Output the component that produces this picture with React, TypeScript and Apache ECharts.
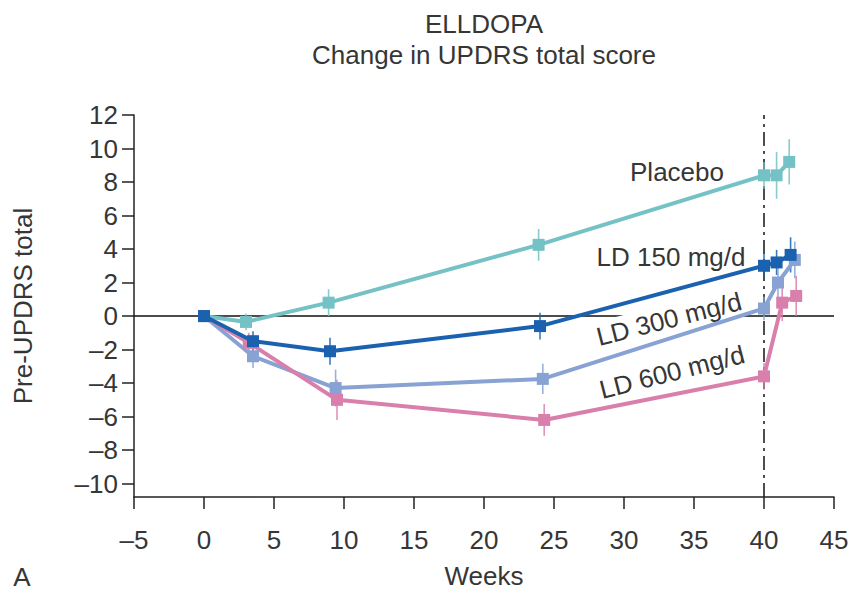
import React, { useEffect, useRef } from "react";
import * as echarts from "echarts";

// ---- data ----
const placeboWeeks = [0, 3.0, 8.9, 23.9, 40.0, 40.9, 41.8];
const placeboMean = [0, -0.35, 0.8, 4.25, 8.4, 8.4, 9.2];
const placeboErr = [0, 0.5, 0.8, 0.95, 0.8, 1.4, 1.35];

const ld150Weeks = [0, 3.5, 9.0, 24.0, 40.0, 40.9, 41.9];
const ld150Mean = [0, -1.5, -2.1, -0.6, 3.0, 3.2, 3.65];
const ld150Err = [0, 0.6, 0.8, 0.8, 0.7, 0.75, 1.05];

const ld300Weeks = [0, 3.5, 9.4, 24.2, 40.0, 41.0, 42.2];
const ld300Mean = [0, -2.4, -4.3, -3.75, 0.45, 2.0, 3.35];
const ld300Err = [0, 0.7, 1.1, 0.9, 0.7, 1.0, 1.1];

const ld600Weeks = [0, 3.2, 9.5, 24.3, 40.0, 41.3, 42.3];
const ld600Mean = [0, -1.6, -5.0, -6.2, -3.6, 0.8, 1.2];
const ld600Err = [0, 0.6, 1.2, 0.95, 0.8, 1.1, 1.2];

const yTicks = [-10, -8, -6, -4, -2, 0, 2, 4, 6, 8, 10, 12];
const xTicks = [-5, 0, 5, 10, 15, 20, 25, 30, 35, 40, 45];
const switchWeek = 40;

const FONT = "'Liberation Sans', Arial, Helvetica, sans-serif";
const TEXT = "#363636";

const fmt = (v: number) => (v < 0 ? "\u2013" + Math.abs(v) : String(v));

function lineSeries(name: string, weeks: number[], mean: number[], color: string, z: number) {
  return {
    type: "line",
    name,
    z,
    data: weeks.map((w, i) => [w, mean[i]]),
    symbol: "rect",
    symbolSize: 12,
    showSymbol: true,
    lineStyle: { color, width: 4 },
    itemStyle: { color },
    emphasis: { disabled: true },
  };
}

function errSeries(name: string, weeks: number[], mean: number[], err: number[], color: string, z: number) {
  return {
    type: "custom",
    name: name + " err",
    z,
    silent: true,
    encode: { x: 0, y: [1, 2] },
    data: weeks.map((w, i) => [w, mean[i] - err[i], mean[i] + err[i]]),
    renderItem: (_p: any, api: any) => {
      const lo = api.coord([api.value(0), api.value(1)]);
      const hi = api.coord([api.value(0), api.value(2)]);
      return {
        type: "line",
        shape: { x1: lo[0], y1: lo[1], x2: hi[0], y2: hi[1] },
        style: { stroke: color, lineWidth: 1.6, opacity: 0.85 },
      };
    },
  };
}

const C_PLACEBO = "#74c2c5";
const C_150 = "#1a62b0";
const C_300 = "#88a2d3";
const C_600 = "#d97fab";

export default function App() {
  const ref = useRef<HTMLDivElement>(null);

  useEffect(() => {
    if (!ref.current) return;
    const chart = echarts.init(ref.current, null, { renderer: "svg" });
    const option: any = {
      animation: false,
      backgroundColor: "#ffffff",
      textStyle: { fontFamily: FONT },
      title: {
        text: "ELLDOPA\nChange in UPDRS total score",
        left: 484,
        top: 8,
        textAlign: "center",
        padding: 0,
        textStyle: {
          fontFamily: FONT,
          fontSize: 26,
          fontWeight: "normal",
          color: TEXT,
          lineHeight: 31,
        },
      },
      grid: {
        left: 134,
        right: 20,
        top: 115,
        bottom: 98,
        containLabel: false,
        outerBoundsMode: "none",
      },
      xAxis: {
        type: "value",
        min: xTicks[0],
        max: xTicks[xTicks.length - 1],
        interval: 5,
        name: "Weeks",
        nameLocation: "middle",
        nameGap: 66,
        nameTextStyle: { fontFamily: FONT, fontSize: 26, color: TEXT },
        axisLine: { onZero: false, lineStyle: { color: "#222", width: 1.5 } },
        axisTick: { show: true, inside: false, length: 12, lineStyle: { color: "#222", width: 1.5 } },
        axisLabel: {
          margin: 30,
          fontFamily: FONT,
          fontSize: 26,
          color: TEXT,
          formatter: fmt,
          showMinLabel: true,
          showMaxLabel: true,
        },
        splitLine: { show: false },
      },
      yAxis: {
        type: "value",
        min: -10.8,
        max: 12,
        name: "Pre-UPDRS total",
        nameLocation: "middle",
        nameGap: 98,
        nameRotate: 90,
        nameTextStyle: { fontFamily: FONT, fontSize: 26, color: TEXT },
        axisLine: { onZero: false, lineStyle: { color: "#222", width: 1.5 } },
        axisTick: {
          show: true,
          length: 12,
          customValues: yTicks,
          lineStyle: { color: "#222", width: 1.5 },
        },
        axisLabel: {
          margin: 16,
          fontFamily: FONT,
          fontSize: 26,
          color: TEXT,
          customValues: yTicks,
          formatter: fmt,
        },
        splitLine: { show: false },
      },
      graphic: [
        {
          type: "text",
          z: 2,
          x: 677,
          y: 172,
          style: {
            text: "Placebo",
            fill: TEXT,
            font: `26px ${FONT}`,
            align: "center",
            verticalAlign: "middle",
          },
        },
        {
          type: "text",
          z: 2,
          x: 671,
          y: 257,
          style: {
            text: "LD 150 mg/d",
            fill: TEXT,
            font: `26px ${FONT}`,
            align: "center",
            verticalAlign: "middle",
          },
        },
        {
          type: "text",
          z: 2,
          x: 669,
          y: 319,
          rotation: 0.25,
          style: {
            text: "LD 300 mg/d",
            fill: TEXT,
            font: `26px ${FONT}`,
            align: "center",
            verticalAlign: "middle",
            backgroundColor: "#ffffff",
            padding: [2, 6],
          },
        },
        {
          type: "text",
          z: 2,
          x: 672,
          y: 372,
          rotation: 0.25,
          style: {
            text: "LD 600 mg/d",
            fill: TEXT,
            font: `26px ${FONT}`,
            align: "center",
            verticalAlign: "middle",
          },
        },
        {
          type: "text",
          z: 2,
          x: 22,
          y: 577,
          style: {
            text: "A",
            fill: TEXT,
            font: `26px ${FONT}`,
            align: "center",
            verticalAlign: "middle",
          },
        },
      ],
      series: [
        {
          type: "line",
          name: "reference",
          data: [],
          z: 1,
          silent: true,
          markLine: {
            z: 1,
            silent: true,
            symbol: "none",
            label: { show: false },
            emphasis: { disabled: true },
            data: [
              { yAxis: 0, lineStyle: { color: "#111", width: 1.5, type: "solid" } },
              { xAxis: switchWeek, lineStyle: { color: "#222", width: 1.6, type: [14, 5, 3, 5] } },
            ],
          },
        },
        errSeries("Placebo", placeboWeeks, placeboMean, placeboErr, C_PLACEBO, 3),
        errSeries("LD 150 mg/d", ld150Weeks, ld150Mean, ld150Err, C_150, 3),
        errSeries("LD 300 mg/d", ld300Weeks, ld300Mean, ld300Err, C_300, 3),
        errSeries("LD 600 mg/d", ld600Weeks, ld600Mean, ld600Err, C_600, 3),
        lineSeries("Placebo", placeboWeeks, placeboMean, C_PLACEBO, 4),
        lineSeries("LD 300 mg/d", ld300Weeks, ld300Mean, C_300, 4),
        lineSeries("LD 600 mg/d", ld600Weeks, ld600Mean, C_600, 4),
        lineSeries("LD 150 mg/d", ld150Weeks, ld150Mean, C_150, 5),
      ],
    };
    chart.setOption(option);
    return () => chart.dispose();
  }, []);

  return (
    <div
      ref={ref}
      style={{ position: "fixed", left: 0, top: 0, width: 854, height: 595 }}
    />
  );
}
